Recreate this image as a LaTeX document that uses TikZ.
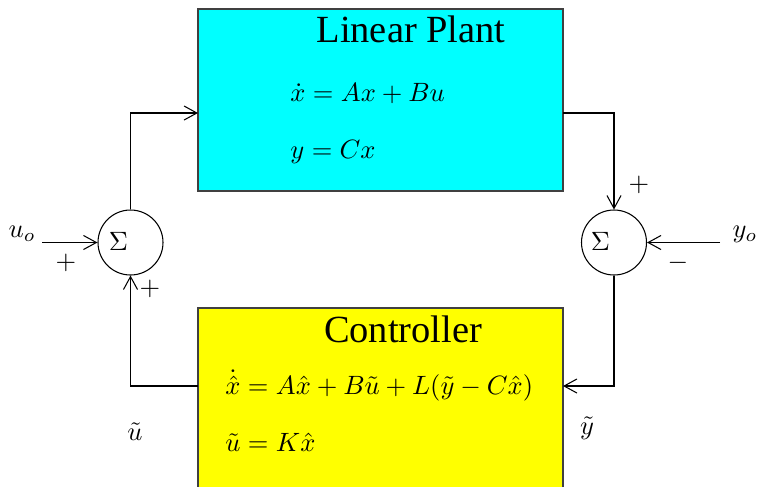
\RequirePackage{fix-cm}
\documentclass[tikz,border=0pt]{standalone}
\usepackage[no-math]{fontspec}
\newfontfamily\titlefont{Liberation Serif}
\usetikzlibrary{arrows.meta}
\definecolor{plantcyan}{RGB}{0,255,255}
\definecolor{ctrlyellow}{RGB}{255,255,0}

\begin{document}
\begin{tikzpicture}[x=0.015cm, y=-0.015cm,
  block/.style={rectangle, draw=black!75, line width=0.45pt,
    minimum width=5.475cm, inner sep=0pt},
  sumnode/.style={circle, draw=black, line width=0.45pt,
    minimum size=0.975cm, inner sep=0pt},
  arr/.style={-{Straight Barb[length=5.5pt, width=6pt]}, line width=0.45pt},
  title/.style={font=\titlefont\fontsize{16.4}{20}\selectfont, anchor=base, inner sep=0pt},
  eqn/.style={font=\fontsize{11.3}{13.6}\selectfont, anchor=base west, inner sep=0pt},
  lbl/.style={font=\fontsize{11.3}{13.6}\selectfont, inner sep=0pt},
]
  \clip (0,0) rectangle (757,486);

  % blocks
  \node[block, fill=plantcyan, minimum height=2.73cm] (plant) at (380.5,100) {};
  \node[block, fill=ctrlyellow, minimum height=3cm] (ctrl) at (380.5,408) {};

  \node[title] (plantname) at (411,42) {Linear Plant};
  \node[eqn] (planteq1) at (290,101) {$\dot{x} = Ax + Bu$};
  \node[eqn] (planteq2) at (290,158) {$y = Cx$};

  \node[title] (ctrlname) at (403,342) {Controller};
  \node[eqn] (ctrleq1) at (225,394) {$\dot{\hat{x}} = A\hat{x} + B\tilde{u} + L(\tilde{y} - C\hat{x})$};
  \node[eqn] (ctrleq2) at (225,451) {$\tilde{u} = K\hat{x}$};

  % summing junctions
  \node[sumnode] (sumL) at (130.5,242.5) {};
  \node[lbl] (sigL) at (118.5,241.5) {$\Sigma$};
  \node[sumnode] (sumR) at (614,242.5) {};
  \node[lbl] (sigR) at (600.5,241.5) {$\Sigma$};

  % end points
  \coordinate (plantin)  at (198,113);
  \coordinate (plantout) at (563,113);
  \coordinate (ctrlin)   at (563,386);
  \coordinate (ctrlout)  at (198,386);
  \coordinate (uostart)  at (42,242.5);
  \coordinate (yostart)  at (720,242.5);

  \draw[arr] (sumL.north) |- (plantin);
  \draw[arr] (plantout) -| (sumR.north);
  \draw[arr] (yostart) -- (sumR.east);
  \draw[arr] (sumR.south) |- (ctrlin);
  \draw[arr] (ctrlout) -| (sumL.south);
  \draw[arr] (uostart) -- (sumL.west);

  % signs and signals
  \node[lbl] (uo)    at (22,234)  {$u_o$};
  \node[lbl] (plusa) at (66,263)  {$+$};
  \node[lbl] (plusb) at (150,289) {$+$};
  \node[lbl] (plusc) at (639,185) {$+$};
  \node[lbl] (minus) at (678,263) {$-$};
  \node[lbl] (yo)    at (745,234) {$y_o$};
  \node[lbl] (ut)    at (135,432) {$\tilde{u}$};
  \node[lbl] (yt)    at (587,428) {$\tilde{y}$};
\end{tikzpicture}
\end{document}
